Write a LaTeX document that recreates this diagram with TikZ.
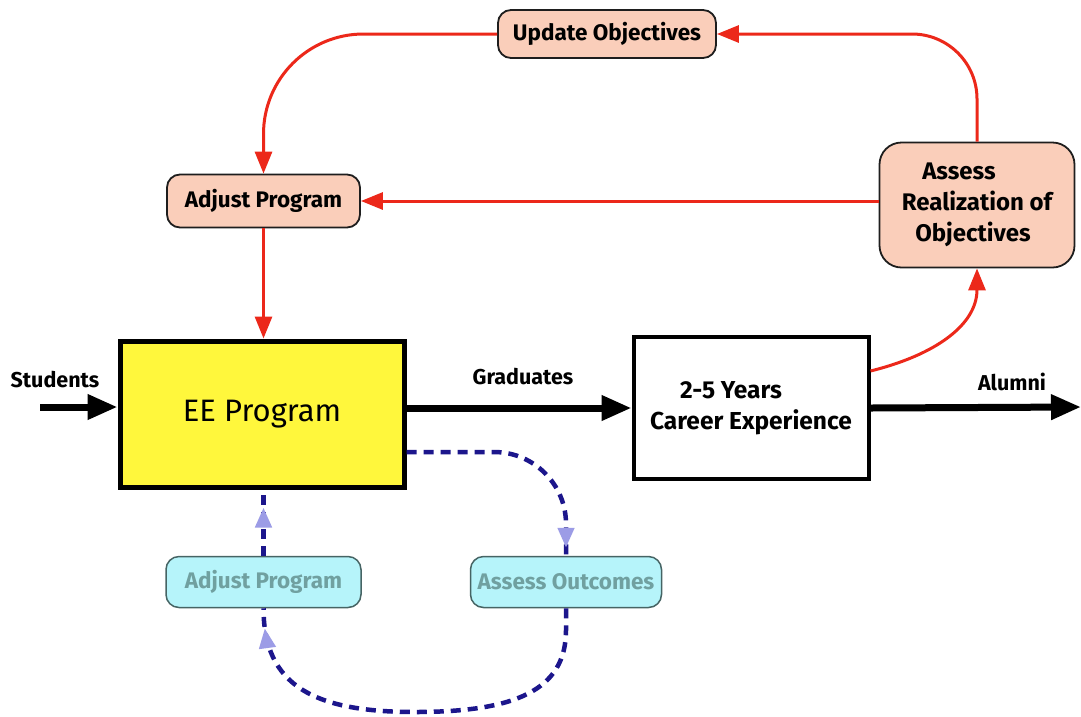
\documentclass[tikz,border=0pt]{standalone}
\usepackage{fontspec}
\setmainfont{Fira Sans}
\usetikzlibrary{arrows.meta,calc,decorations.markings}

\definecolor{progyellow}{RGB}{255,247,60}
\definecolor{peach}{RGB}{250,206,186}
\definecolor{paleCyan}{RGB}{182,244,250}
\definecolor{cyanText}{RGB}{112,160,160}
\definecolor{cyanEdge}{RGB}{70,100,100}
\definecolor{boxEdge}{RGB}{30,30,30}
\definecolor{loopRed}{RGB}{236,40,26}
\definecolor{loopNavy}{RGB}{28,22,140}
\definecolor{lavender}{RGB}{156,156,230}

\begin{document}
\begin{tikzpicture}[x=1pt,y=-1pt,
  peachbox/.style={draw=boxEdge, line width=1.8pt, fill=peach, rounded corners=13pt,
    font=\bfseries\fontsize{22.5}{24}\selectfont, inner sep=0pt},
  cyanbox/.style={draw=cyanEdge, line width=1.5pt, fill=paleCyan, rounded corners=13pt,
    text=cyanText, font=\bfseries\fontsize{22.5}{24}\selectfont, inner sep=0pt},
  flowlabel/.style={font=\bfseries\fontsize{21.5}{24}\selectfont, inner sep=0pt},
  blackflow/.style={line width=7pt, -{Triangle[length=30pt,width=24pt]}},
  redflow/.style={draw=loopRed, line width=3pt, -{Triangle[length=22pt,width=17pt]}},
  navydash/.style={draw=loopNavy, line width=4.5pt, dash pattern=on 10pt off 7pt},
  lavtip/.style={postaction={decorate, decoration={markings,
    mark=at position #1 with {\arrow{Triangle[length=20pt,width=16pt,color=lavender]}}}}}
]
\useasboundingbox[fill=white] (0,0) rectangle (1081,716);

% main blocks
\node[draw, line width=5pt, fill=progyellow, minimum width=284pt, minimum height=146pt,
  font=\fontsize{31}{36}\selectfont] (ee) at (262,414) {EE Program};
\node[draw, line width=4pt, fill=white, minimum width=235pt, minimum height=142pt,
  align=center, font=\bfseries\fontsize{24.5}{31}\selectfont] (career) at (751,408)
  {2-5 Years\hspace*{40pt}\\Career Experience};

% objective loop boxes
\node[peachbox, minimum width=218pt, minimum height=48pt] (upd) at (607,34) {Update Objectives};
\node[peachbox, minimum width=193pt, minimum height=53pt] (adjR) at (263.5,201) {Adjust Program};
\node[peachbox, rounded corners=22pt, minimum width=195pt, minimum height=125pt,
  align=center, font=\bfseries\fontsize{24}{31}\selectfont] (assess) at (977,205)
  {Assess\hspace*{36pt}\\Realization of\\Objectives\hspace*{8pt}};

% outcome loop boxes
\node[cyanbox, minimum width=195pt, minimum height=51pt] (adjB) at (263.5,582) {Adjust Program};
\node[cyanbox, minimum width=191pt, minimum height=51pt] (assO) at (566,582) {Assess Outcomes};

% flow labels
\node[flowlabel] (lStud) at (55,380) {Students};
\node[flowlabel] (lGrad) at (523,377) {Graduates};
\node[flowlabel] (lAlum) at (1012,382) {Alumni};

% main flow
\coordinate (studIn) at (40,407);
\coordinate (alumOut) at (1081,407);
\draw[blackflow] (studIn) -- (studIn -| ee.west);
\draw[blackflow] (career.west -| ee.east) -- (career.west);
\draw[blackflow] (career.east) -- (alumOut);

% objectives loop
\draw[redflow] ($(career.north east)+(0,36)$) .. controls (935,355) and (977,325) .. (assess.south);
\draw[redflow, rounded corners=65pt] (assess.north) |- (upd.east);
\draw[redflow, rounded corners=100pt] (upd.west) -| (adjR.north);
\draw[redflow] (adjR.east -| assess.west) -- (adjR.east);
\draw[redflow] (adjR.south) -- (adjR.south |- ee.north);

% outcomes loop
\coordinate (loopBase) at (415,712);
\draw[navydash, rounded corners=72pt, lavtip=-8pt] ($(ee.east)+(0,38)$) -| (assO.north);
\draw[navydash, lavtip=-20pt] (assO.south) -- ++(0,22)
  .. controls ++(0,60) and (515,712) .. (loopBase)
  .. controls (315,712) and ($(adjB.south)+(0,78)$) .. (adjB.south);
\draw[navydash, lavtip=-18pt] (adjB.north) -- (adjB.north |- ee.south);
\end{tikzpicture}
\end{document}
